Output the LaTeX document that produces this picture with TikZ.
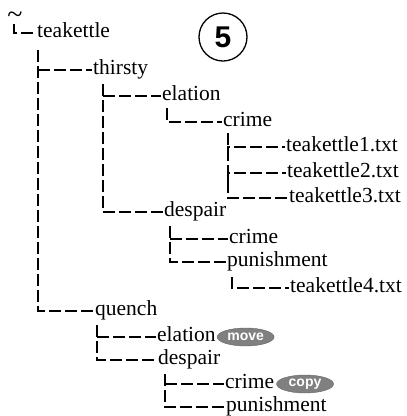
\documentclass[tikz,border=0pt]{standalone}
\usepackage{fontspec}
\setmainfont{Liberation Serif}
\setsansfont{Liberation Sans}
\usepackage{tikz}
\usetikzlibrary{shapes.geometric, positioning}
\definecolor{Gris}{RGB}{128, 128, 128}

\begin{document}
\begin{tikzpicture}[x=1pt, y=-1pt,
        entry/.style={anchor=west, inner sep=0pt, text height=14pt, text depth=4.4pt, font=\fontsize{21.5}{24}\selectfont},
        branch/.style={line width=1.8pt, dash pattern=on 12pt off 4pt, shorten <=5pt, shorten >=1pt},
        twig/.style={line width=1.8pt, dash pattern=on 12pt off 4pt, shorten >=1pt},
        badge/.style={ellipse, draw=black!60, fill=Gris, text=white, font=\sffamily\bfseries\fontsize{14}{14}\selectfont, minimum width=57pt, minimum height=18pt, inner sep=0pt}
    ]
        \useasboundingbox (0,0) rectangle (407,416);

        % Home directory
        \node[anchor=base, inner sep=0pt, font=\fontsize{28}{28}\selectfont] (home) at (15,23) {\textasciitilde};

        % Directory entries
        \node[entry] (teakettle) at (37,33) {teakettle};
        \node[entry] (thirsty) at (93,70) {thirsty};
        \node[entry] (elationA) at (162,96) {elation};
        \node[entry] (crimeA) at (223,122) {crime};
        \node[entry] (fileA) at (286,147) {teakettle1.txt};
        \node[entry] (fileB) at (287,173) {teakettle2.txt};
        \node[entry] (fileC) at (289,198) {teakettle3.txt};
        \node[entry] (despairA) at (164,212) {despair};
        \node[entry] (crimeB) at (229,239) {crime};
        \node[entry] (punishA) at (227,262) {punishment};
        \node[entry] (fileD) at (290,288) {teakettle4.txt};
        \node[entry] (quench) at (95,311) {quench};
        \node[entry] (elationB) at (157,337) {elation};
        \node[entry] (despairB) at (158,360) {despair};
        \node[entry] (crimeC) at (225,384) {crime};
        \node[entry] (punishB) at (226,407) {punishment};

        % Step number
        \node[circle, draw, line width=1.3pt, minimum size=48pt, inner sep=0pt, font=\sffamily\bfseries\fontsize{30}{30}\selectfont] (step5) at (223,37) {5};

        % Operation tags
        \node[badge, right=1pt of elationB] (move) {move};
        \node[badge, right=2pt of crimeC] (copy) {copy};

        % Vertical lines under each directory
        \coordinate (vHome) at ([xshift=-1pt]home.south);
        \coordinate (vTeakettle) at ([xshift=1pt]teakettle.south west);
        \coordinate (vThirsty) at ([xshift=10pt]thirsty.south west);
        \coordinate (vElationA) at ([xshift=5pt]elationA.south west);
        \coordinate (vCrimeA) at ([xshift=5pt]crimeA.south west);
        \coordinate (vDespairA) at ([xshift=6pt]despairA.south west);
        \coordinate (vPunishA) at ([xshift=5pt]punishA.south west);
        \coordinate (vQuench) at ([xshift=2pt]quench.south west);
        \coordinate (vDespairB) at ([xshift=7pt]despairB.south west);

        % Branches
        \draw[branch, shorten <=1pt] (vHome) |- (teakettle.west);
        \draw[branch, shorten <=8pt] (vTeakettle) |- (quench.west);
        \draw[twig] (vTeakettle |- thirsty.west) -- (thirsty.west);
        \draw[branch] (vThirsty) |- (despairA.west);
        \draw[twig] (vThirsty |- elationA.west) -- (elationA.west);
        \draw[branch, shorten <=3pt] (vElationA) |- (crimeA.west);
        \draw[branch, shorten <=2pt] (vCrimeA) |- (fileC.west);
        \draw[twig] ([yshift=-10pt]vCrimeA |- fileA.west) |- (fileA.west);
        \draw[twig] ([yshift=-10pt]vCrimeA |- fileB.west) |- (fileB.west);
        \draw[branch] (vDespairA) |- (punishA.west);
        \draw[twig] (vDespairA |- crimeB.west) -- (crimeB.west);
        \draw[branch, shorten <=6pt] (vPunishA) |- (fileD.west);
        \draw[branch] (vQuench) |- (despairB.west);
        \draw[twig] (vQuench |- elationB.west) -- (elationB.west);
        \draw[branch] (vDespairB) |- (punishB.west);
        \draw[twig] (vDespairB |- crimeC.west) -- (crimeC.west);
    \end{tikzpicture}
\end{document}
